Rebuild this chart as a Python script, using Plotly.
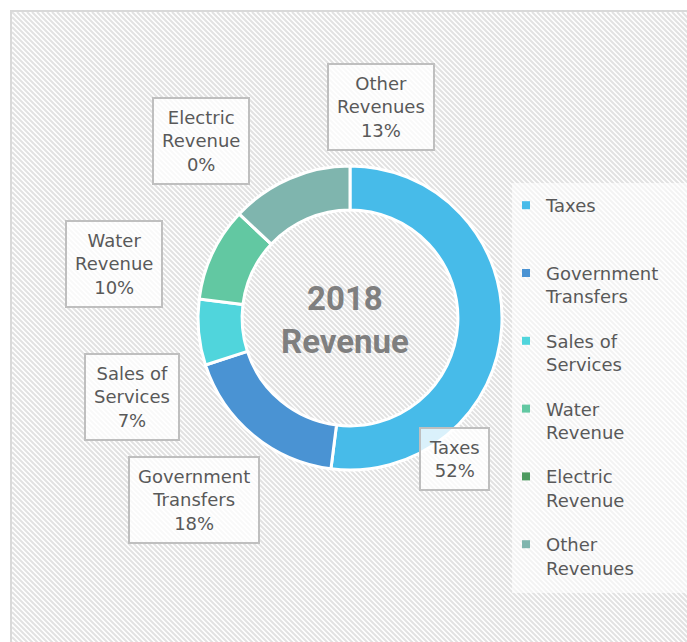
import plotly.graph_objects as go

# Revenue sources for 2018
categories = ["Taxes", "Government Transfers", "Sales of Services",
              "Water Revenue", "Electric Revenue", "Other Revenues"]
values = [52, 18, 7, 10, 0, 13]

# Line-broken versions used in the legend and the callouts
legend_names = ["Taxes", "Government<br>Transfers", "Sales of<br>Services",
                "Water<br>Revenue", "Electric<br>Revenue", "Other<br>Revenues"]

slice_colors = ["#47bbe9", "#4a93d3", "#50d5dc", "#62c8a2", "#4e9b60", "#7fb5ae"]

# Callout box centres in pixel units (x right, y down)
callout_xy = [(454, 459), (194, 500), (132, 397), (114, 264), (201, 141), (381, 107)]

W, H = 687, 642
CX, CY, R = 350, 318, 152
TEXT = "#595959"
FONT = "DejaVu Sans"

fig = go.Figure()

fig.add_trace(go.Pie(
    labels=categories,
    values=values,
    sort=False,
    direction="clockwise",
    rotation=0,
    hole=0.71,
    textinfo="none",
    hoverinfo="label+percent",
    showlegend=False,
    marker=dict(colors=slice_colors, line=dict(color="white", width=3)),
    domain=dict(x=[(CX - R) / W, (CX + R) / W],
                y=[1 - (CY + R) / H, 1 - (CY - R) / H]),
))

# Legend entries with small square keys
for name, lname, col in zip(categories, legend_names, slice_colors):
    fig.add_trace(go.Scatter(
        x=[None], y=[None], mode="markers", name=lname if "<br>" in lname else lname + "<br> ",
        legendgroup=name,
        marker=dict(symbol="square", size=8, color=col, line=dict(width=0)),
        hoverinfo="skip",
    ))

# Diagonal hatch over the chart area
x_lo, y_lo, x_hi, y_hi = 12, 12, W + 5, H + 5
step = 5
segs = []
c = y_lo - x_hi
while c <= y_hi - x_lo:
    xa = max(x_lo, y_lo - c)
    xb = min(x_hi, y_hi - c)
    if xb > xa:
        segs.append(f"M{xa},{xa + c}L{xb},{xb + c}")
    c += step

shapes = [
    dict(type="path", path="".join(segs), xref="x", yref="y", layer="below",
         line=dict(color="rgb(226,226,226)", width=2)),
    # legend panel
    dict(type="rect", xref="x", yref="y", x0=512, y0=183, x1=W + 5, y1=593,
         layer="below", fillcolor="rgba(255,255,255,0.6)", line=dict(width=0)),
    # chart frame
    dict(type="rect", xref="x", yref="y", x0=11, y0=11, x1=W + 20, y1=H + 20,
         layer="below", fillcolor="rgba(0,0,0,0)", line=dict(color="#d9d9d9", width=2)),
]

total = sum(values)
annotations = []
for lname, v, (ax, ay) in zip(legend_names, values, callout_xy):
    pct = round(v / total * 100)
    annotations.append(dict(
        x=ax, y=ay, xref="x", yref="y", showarrow=False,
        text=f"{lname}<br>{pct}%",
        font=dict(family=FONT, size=18, color=TEXT),
        align="center",
        bgcolor="rgba(255,255,255,0.8)",
        bordercolor="#bfbfbf", borderwidth=2, borderpad=8,
    ))

annotations.append(dict(
    x=CX - 5, y=CY + 2, xref="x", yref="y", showarrow=False,
    text="<b>2018<br>Revenue</b>",
    font=dict(family="Roboto", size=33, color="#7f7f7f"),
    align="center",
))

fig.update_layout(
    width=W, height=H,
    margin=dict(l=0, r=0, t=0, b=0),
    paper_bgcolor="white",
    plot_bgcolor="rgba(0,0,0,0)",
    xaxis=dict(range=[0, W], visible=False, fixedrange=True),
    yaxis=dict(range=[H, 0], visible=False, fixedrange=True),
    shapes=shapes,
    annotations=annotations,
    legend=dict(
        x=506 / W, y=1 - 187 / H, xanchor="left", yanchor="top",
        bgcolor="rgba(0,0,0,0)",
        font=dict(family=FONT, size=18, color=TEXT),
        tracegroupgap=18,
        valign="top",
        itemwidth=30,
    ),
    showlegend=True,
)

fig.write_html("out.html")
